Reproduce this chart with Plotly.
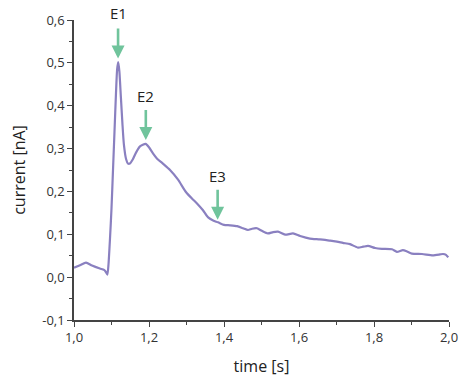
import plotly.graph_objects as go

time_s = [1.000, 1.016, 1.032, 1.048, 1.069, 1.080, 1.085, 1.089, 1.092, 1.096,
          1.100, 1.104, 1.108, 1.112, 1.115, 1.118, 1.121, 1.125, 1.129, 1.133,
          1.139, 1.144, 1.149, 1.157, 1.165, 1.176, 1.191, 1.200, 1.211, 1.221,
          1.237, 1.256, 1.277, 1.299, 1.315, 1.328, 1.344, 1.357, 1.371, 1.384,
          1.400, 1.416, 1.435, 1.451, 1.464, 1.475, 1.488, 1.501, 1.517, 1.531,
          1.544, 1.563, 1.584, 1.603, 1.629, 1.656, 1.683, 1.701, 1.717, 1.736,
          1.757, 1.771, 1.784, 1.803, 1.821, 1.848, 1.861, 1.877, 1.888, 1.901,
          1.928, 1.957, 1.976, 1.984, 1.992, 1.998]
current_nA = [0.022, 0.028, 0.034, 0.027, 0.020, 0.017, 0.012, 0.006, 0.030, 0.090,
              0.160, 0.250, 0.340, 0.430, 0.485, 0.502, 0.480, 0.420, 0.360, 0.310,
              0.275, 0.265, 0.265, 0.275, 0.290, 0.305, 0.311, 0.303, 0.288, 0.277,
              0.265, 0.250, 0.228, 0.198, 0.183, 0.172, 0.156, 0.140, 0.132, 0.128,
              0.122, 0.121, 0.119, 0.114, 0.110, 0.113, 0.114, 0.108, 0.102, 0.105,
              0.106, 0.099, 0.102, 0.096, 0.090, 0.088, 0.085, 0.083, 0.080, 0.077,
              0.069, 0.071, 0.073, 0.068, 0.066, 0.065, 0.059, 0.063, 0.060, 0.055,
              0.054, 0.051, 0.053, 0.054, 0.052, 0.046]

event_labels = ["E1", "E2", "E3"]
event_time = [1.1175, 1.1915, 1.383]
event_tip = [0.510, 0.320, 0.134]       # where each arrow points
event_label_y = [0.616, 0.423, 0.236]   # where each label sits

x_tickvals = [1.0, 1.2, 1.4, 1.6, 1.8, 2.0]
x_ticktext = ["1,0", "1,2", "1,4", "1,6", "1,8", "2,0"]
y_tickvals = [-0.1, 0.0, 0.1, 0.2, 0.3, 0.4, 0.5, 0.6]
y_ticktext = ["-0,1", "0,0", "0,1", "0,2", "0,3", "0,4", "0,5", "0,6"]

Y_RANGE = [-0.1, 0.6]

FONT = "'Open Sans', sans-serif"
LINE_COLOR = "#8A80C0"
ARROW_COLOR = "#70C49C"
AXIS_COLOR = "#444444"

fig = go.Figure()
fig.add_trace(go.Scatter(
    x=time_s, y=current_nA, mode="lines",
    line=dict(color=LINE_COLOR, width=2.2, shape="spline", smoothing=0.6),
    showlegend=False, hoverinfo="skip",
))

for lab, tx, tip, ly in zip(event_labels, event_time, event_tip, event_label_y):
    fig.add_annotation(
        x=tx, y=tip, xref="x", yref="y", text=" ",
        showarrow=True, arrowhead=2, arrowsize=1.0, arrowwidth=2.6,
        arrowcolor=ARROW_COLOR, ax=0, ay=-31, standoff=0,
        font=dict(size=1), borderpad=0,
    )
    # labels may sit above the axis range, so place them in paper units
    fig.add_annotation(
        x=tx, y=(ly - Y_RANGE[0]) / (Y_RANGE[1] - Y_RANGE[0]),
        xref="x", yref="paper", text=lab, showarrow=False,
        xanchor="center", yanchor="middle",
        font=dict(family=FONT, size=15, color="#222222"),
    )

axis_common = dict(
    showgrid=False, zeroline=False, showline=True, linecolor=AXIS_COLOR,
    linewidth=1.5, ticks="outside", ticklen=5, tickwidth=1.3, tickcolor=AXIS_COLOR,
    tickfont=dict(family=FONT, size=13, color="#333333"),
    mirror=False, automargin=False,
)

fig.update_layout(
    width=466, height=377,
    margin=dict(l=74, r=17, t=20, b=57),
    paper_bgcolor="white", plot_bgcolor="white",
    font=dict(family=FONT, color="#333333"),
    xaxis=dict(range=[1.0, 2.0], tickvals=x_tickvals, ticktext=x_ticktext,
               title=dict(text="time [s]", font=dict(family=FONT, size=16, color="#222222"), standoff=15),
               minor=dict(ticks="outside", ticklen=3, tickcolor=AXIS_COLOR, dtick=0.1, tick0=1.0),
               **axis_common),
    yaxis=dict(range=Y_RANGE, tickvals=y_tickvals, ticktext=y_ticktext,
               title=dict(text="current [nA]", font=dict(family=FONT, size=16, color="#222222"), standoff=13),
               minor=dict(ticks="outside", ticklen=3, tickcolor=AXIS_COLOR, dtick=0.05, tick0=0.0),
               **axis_common),
)

# remove the browser's default 8px body margin so the figure fills the window
fig.write_html("out.html", config={"displayModeBar": False},
               post_script="document.body.style.margin='0px';")
